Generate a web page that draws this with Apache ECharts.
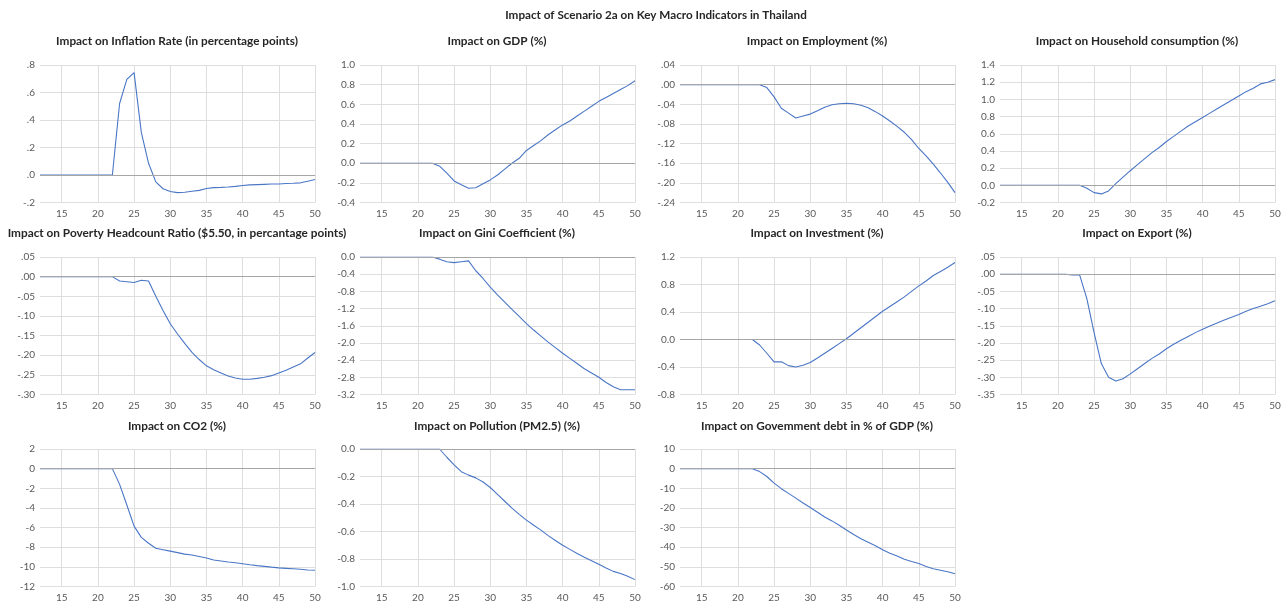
<!DOCTYPE html>
<html><head><meta charset="utf-8">
<script src="https://cdn.jsdelivr.net/npm/echarts@6/dist/echarts.min.js"></script>
<style>html,body{margin:0;padding:0;background:#fff}#c{width:1285px;height:603px}</style>
</head><body><div id="c"></div><script>
const years = [12,13,14,15,16,17,18,19,20,21,22,23,24,25,26,27,28,29,30,31,32,33,34,35,36,37,38,39,40,41,42,43,44,45,46,47,48,49,50];

const inflation = [0,0,0,0,0,0,0,0,0,0,0, 0.52,0.695,0.745,0.31,0.085,-0.05,-0.1,-0.12,-0.128,-0.125,-0.118,-0.112,-0.098,-0.092,-0.09,-0.087,-0.083,-0.076,-0.072,-0.07,-0.068,-0.066,-0.065,-0.062,-0.06,-0.057,-0.045,-0.033];
const gdp = [0,0,0,0,0,0,0,0,0,0,0, -0.03,-0.1,-0.18,-0.22,-0.255,-0.25,-0.21,-0.17,-0.12,-0.06,0.0,0.05,0.13,0.18,0.23,0.29,0.34,0.39,0.43,0.48,0.53,0.58,0.63,0.67,0.71,0.75,0.79,0.84];
const employment = [0,0,0,0,0,0,0,0,0,0,0,0, -0.006,-0.025,-0.048,-0.058,-0.068,-0.064,-0.06,-0.053,-0.046,-0.041,-0.039,-0.038,-0.039,-0.042,-0.047,-0.055,-0.064,-0.074,-0.085,-0.097,-0.112,-0.13,-0.145,-0.162,-0.18,-0.199,-0.22];
const household = [0,0,0,0,0,0,0,0,0,0,0,0, -0.035,-0.085,-0.1,-0.065,0.02,0.095,0.17,0.24,0.31,0.38,0.44,0.51,0.57,0.63,0.69,0.74,0.79,0.84,0.89,0.94,0.99,1.04,1.09,1.13,1.18,1.2,1.23];
const poverty = [0,0,0,0,0,0,0,0,0,0,0, -0.011,-0.013,-0.015,-0.009,-0.011,-0.05,-0.086,-0.12,-0.146,-0.17,-0.193,-0.211,-0.227,-0.237,-0.245,-0.253,-0.258,-0.261,-0.261,-0.259,-0.256,-0.252,-0.245,-0.238,-0.23,-0.222,-0.207,-0.193];
const gini = [0,0,0,0,0,0,0,0,0,0,0, -0.05,-0.11,-0.13,-0.11,-0.09,-0.32,-0.5,-0.7,-0.88,-1.05,-1.22,-1.38,-1.55,-1.7,-1.84,-1.98,-2.11,-2.24,-2.36,-2.48,-2.6,-2.7,-2.8,-2.92,-3.02,-3.09,-3.09,-3.09];
const investment = [0,0,0,0,0,0,0,0,0,0,0, -0.08,-0.2,-0.325,-0.325,-0.38,-0.4,-0.375,-0.335,-0.27,-0.2,-0.13,-0.06,0.01,0.09,0.17,0.25,0.33,0.41,0.48,0.55,0.62,0.7,0.78,0.85,0.93,0.99,1.05,1.12];
const exportImpact = [0,0,0,0,0,0,0,0,0,0, -0.002,-0.002,-0.071,-0.17,-0.26,-0.3,-0.311,-0.304,-0.29,-0.275,-0.26,-0.245,-0.232,-0.217,-0.204,-0.192,-0.181,-0.17,-0.16,-0.151,-0.142,-0.133,-0.125,-0.117,-0.108,-0.1,-0.093,-0.086,-0.077];
const co2 = [0,0,0,0,0,0,0,0,0,0,0, -1.6,-3.7,-5.85,-7.0,-7.6,-8.1,-8.25,-8.4,-8.55,-8.7,-8.8,-8.95,-9.1,-9.3,-9.4,-9.5,-9.58,-9.68,-9.78,-9.87,-9.95,-10.03,-10.1,-10.15,-10.2,-10.25,-10.32,-10.35];
const pollution = [0,0,0,0,0,0,0,0,0,0,0,0, -0.06,-0.115,-0.165,-0.19,-0.21,-0.24,-0.28,-0.33,-0.38,-0.43,-0.475,-0.517,-0.555,-0.59,-0.63,-0.665,-0.7,-0.73,-0.76,-0.787,-0.812,-0.838,-0.865,-0.89,-0.905,-0.925,-0.95];
const debt = [0,0,0,0,0,0,0,0,0,0,0, -1.5,-4,-7.4,-10.2,-12.6,-15,-17.5,-19.8,-22.2,-24.6,-26.6,-28.8,-31.2,-33.5,-35.7,-37.5,-39.3,-41.3,-43.1,-44.5,-46.1,-47.3,-48.3,-49.8,-51,-51.7,-52.5,-53.5];

const mainTitle = 'Impact of Scenario 2a on Key Macro Indicators in Thailand';
const panelTitles = [
  'Impact on Inflation Rate (in percentage points)',
  'Impact on GDP (%)',
  'Impact on Employment (%)',
  'Impact on Household consumption (%)',
  'Impact on Poverty Headcount Ratio ($5.50, in percantage points)',
  'Impact on Gini Coefficient (%)',
  'Impact on Investment (%)',
  'Impact on Export (%)',
  'Impact on CO2 (%)',
  'Impact on Pollution (PM2.5) (%)',
  'Impact on Govemment debt in % of GDP (%)'
];
const panelData = [inflation, gdp, employment, household, poverty, gini, investment, exportImpact, co2, pollution, debt];
const yMin = [-0.2, -0.4, -0.24, -0.2, -0.30, -3.2, -0.8, -0.35, -12, -1.0, -60];
const yMax = [0.8, 1.0, 0.04, 1.4, 0.05, 0.0, 1.2, 0.05, 2, 0.0, 10];
const yStep = [0.2, 0.2, 0.04, 0.2, 0.05, 0.4, 0.4, 0.05, 2, 0.2, 10];
const yDecimals = [1, 1, 2, 1, 2, 1, 1, 2, 0, 1, 0];
const yLeadingZero = [false, true, false, true, false, true, true, false, true, true, true];

const chart = echarts.init(document.getElementById('c'), null, {renderer: 'canvas'});
const FONT = 'Lato, "Open Sans", sans-serif';
const grids = [], xAxes = [], yAxes = [], series = [], titles = [];
titles.push({text: mainTitle, left: 656, top: 9, textAlign: 'center', padding: 0,
  textStyle: {fontFamily: FONT, fontSize: 11.7, fontWeight: 'bold', color: '#262626'}});
const rowTitleY = [42, 234, 427];
const isFive = (i, v) => Number(v) % 5 === 0;
panelData.forEach((d, i) => {
  const r = Math.floor(i / 4), c = i % 4;
  const top = 65 + 192 * r;
  const left = 40 + 320 * c;
  grids.push({left: left, top: top, width: 275, height: 137.5, containLabel: false});
  titles.push({text: panelTitles[i], left: 177 + 320 * c, top: rowTitleY[r] - 7, textAlign: 'center', padding: 0,
    textStyle: {fontFamily: FONT, fontSize: 11.8, fontWeight: 'bold', color: '#262626'}});
  xAxes.push({type: 'category', gridIndex: i, data: years, boundaryGap: false,
    axisLine: {show: false}, axisTick: {show: false},
    axisLabel: {interval: isFive, fontFamily: FONT, fontSize: 10, color: '#595959', margin: 6},
    splitLine: {show: true, interval: isFive, lineStyle: {color: '#DEDEDE', width: 1}}});
  const dec = yDecimals[i], lz = yLeadingZero[i];
  yAxes.push({type: 'value', gridIndex: i, min: yMin[i], max: yMax[i], interval: yStep[i],
    axisLine: {show: false}, axisTick: {show: false},
    axisLabel: {fontFamily: FONT, fontSize: 10, color: '#595959', margin: 5,
      formatter: function (v) {
        if (Math.abs(v) < 1e-9) v = 0;
        let s = v.toFixed(dec);
        if (!lz) s = s.replace('0.', '.');
        return s;
      }},
    splitLine: {show: true, lineStyle: {color: '#DEDEDE', width: 1}}});
  series.push({type: 'line', xAxisIndex: i, yAxisIndex: i, data: d, showSymbol: false, symbol: 'none',
    lineStyle: {color: '#4A76C6', width: 1.1}, z: 3,
    markLine: {silent: true, symbol: ['none', 'none'], label: {show: false}, animation: false,
      lineStyle: {color: '#A6A6A6', type: 'solid', width: 1}, data: [{yAxis: 0}]}});
});
chart.setOption({animation: false, backgroundColor: '#ffffff', title: titles, grid: grids, xAxis: xAxes, yAxis: yAxes, series: series});
</script></body></html>
